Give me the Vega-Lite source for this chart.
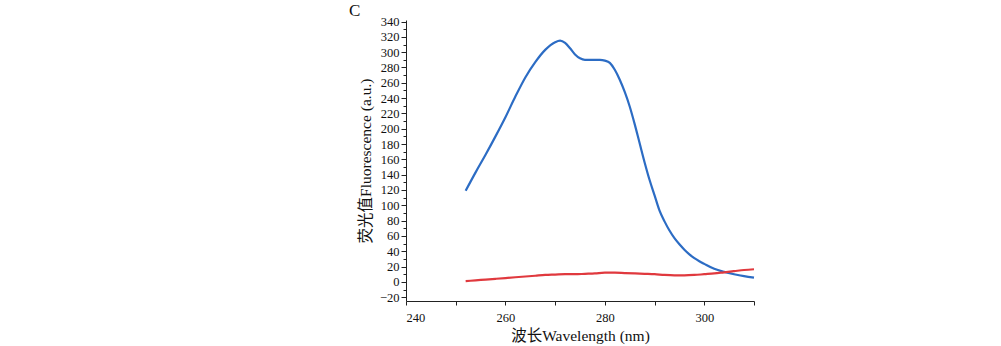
{
  "$schema": "https://vega.github.io/schema/vega-lite/v6.json",
  "autosize": {"type": "none"},
  "width": 348,
  "height": 281,
  "padding": {"left": 406, "top": 20, "right": 247, "bottom": 45},
  "background": "#ffffff",
  "title": {"text": "C", "anchor": "start", "frame": "group", "dx": -57, "offset": -4, "font": "Times New Roman", "fontSize": 17, "fontWeight": "normal", "color": "#111"},
  "config": {"view": {"stroke": null}},
  "data": {"values": [
    {"wl": 252, "v": 119, "s": "a"}, {"wl": 254, "v": 143, "s": "a"}, {"wl": 256, "v": 166, "s": "a"}, {"wl": 258, "v": 190, "s": "a"},
    {"wl": 260, "v": 215, "s": "a"}, {"wl": 262, "v": 242, "s": "a"}, {"wl": 264, "v": 267, "s": "a"}, {"wl": 266, "v": 287, "s": "a"},
    {"wl": 268, "v": 303, "s": "a"}, {"wl": 270, "v": 313, "s": "a"}, {"wl": 271, "v": 315, "s": "a"}, {"wl": 272, "v": 312, "s": "a"},
    {"wl": 273, "v": 305, "s": "a"}, {"wl": 274, "v": 297, "s": "a"}, {"wl": 275, "v": 292, "s": "a"}, {"wl": 276, "v": 290, "s": "a"},
    {"wl": 278, "v": 290, "s": "a"}, {"wl": 279, "v": 290, "s": "a"}, {"wl": 280, "v": 289, "s": "a"}, {"wl": 281, "v": 286, "s": "a"},
    {"wl": 282, "v": 277, "s": "a"}, {"wl": 283, "v": 264, "s": "a"}, {"wl": 284, "v": 248, "s": "a"}, {"wl": 285, "v": 229, "s": "a"},
    {"wl": 286, "v": 206, "s": "a"}, {"wl": 287, "v": 181, "s": "a"}, {"wl": 288, "v": 156, "s": "a"}, {"wl": 289, "v": 133, "s": "a"},
    {"wl": 290, "v": 113, "s": "a"}, {"wl": 291, "v": 93, "s": "a"}, {"wl": 292, "v": 79, "s": "a"}, {"wl": 293, "v": 67, "s": "a"},
    {"wl": 294, "v": 57, "s": "a"}, {"wl": 295, "v": 49, "s": "a"}, {"wl": 296, "v": 42, "s": "a"}, {"wl": 297, "v": 36, "s": "a"},
    {"wl": 298, "v": 31, "s": "a"}, {"wl": 299, "v": 27, "s": "a"}, {"wl": 300, "v": 23.5, "s": "a"}, {"wl": 302, "v": 17, "s": "a"},
    {"wl": 304, "v": 13, "s": "a"}, {"wl": 306, "v": 10, "s": "a"}, {"wl": 308, "v": 7.5, "s": "a"}, {"wl": 310, "v": 5.5, "s": "a"},
    {"wl": 252, "v": 1, "s": "b"}, {"wl": 254, "v": 2, "s": "b"}, {"wl": 256, "v": 3, "s": "b"}, {"wl": 258, "v": 4, "s": "b"},
    {"wl": 260, "v": 5, "s": "b"}, {"wl": 262, "v": 6, "s": "b"}, {"wl": 264, "v": 7, "s": "b"}, {"wl": 266, "v": 8, "s": "b"},
    {"wl": 268, "v": 9, "s": "b"}, {"wl": 270, "v": 9.5, "s": "b"}, {"wl": 272, "v": 10, "s": "b"}, {"wl": 274, "v": 10, "s": "b"},
    {"wl": 276, "v": 10.5, "s": "b"}, {"wl": 278, "v": 11, "s": "b"}, {"wl": 280, "v": 12, "s": "b"}, {"wl": 282, "v": 12, "s": "b"},
    {"wl": 284, "v": 11.5, "s": "b"}, {"wl": 286, "v": 11, "s": "b"}, {"wl": 288, "v": 10.5, "s": "b"}, {"wl": 290, "v": 10, "s": "b"},
    {"wl": 292, "v": 9, "s": "b"}, {"wl": 294, "v": 8.5, "s": "b"}, {"wl": 296, "v": 8.5, "s": "b"}, {"wl": 298, "v": 9, "s": "b"},
    {"wl": 300, "v": 10, "s": "b"}, {"wl": 302, "v": 11, "s": "b"}, {"wl": 304, "v": 12.5, "s": "b"}, {"wl": 306, "v": 14, "s": "b"},
    {"wl": 308, "v": 15.5, "s": "b"}, {"wl": 310, "v": 16.5, "s": "b"}
  ]},
  "mark": {"type": "line", "strokeWidth": 2.2, "interpolate": "monotone"},
  "encoding": {
    "x": {
      "field": "wl", "type": "quantitative",
      "scale": {"domain": [240, 310], "nice": false, "zero": false},
      "axis": {
        "values": [240, 250, 260, 270, 280, 290, 300, 310],
        "labelExpr": "datum.value % 20 === 0 ? datum.label : ''",
        "grid": false, "domainColor": "#222", "tickColor": "#222", "tickSize": 4,
        "labelFont": "Times New Roman", "labelFontSize": 12.5, "labelColor": "#111", "labelPadding": 6,
        "title": "波长Wavelength (nm)", "titleFont": "Times New Roman, Noto Sans CJK SC", "titleFontSize": 15.5,
        "titleFontWeight": "normal", "titleColor": "#111", "titlePadding": 5
      }
    },
    "y": {
      "field": "v", "type": "quantitative",
      "scale": {"domain": [-25, 342], "nice": false, "zero": false},
      "axis": {
        "values": [-20, -10, 0, 10, 20, 30, 40, 50, 60, 70, 80, 90, 100, 110, 120, 130, 140, 150, 160, 170, 180, 190, 200, 210, 220, 230, 240, 250, 260, 270, 280, 290, 300, 310, 320, 330, 340],
        "labelExpr": "datum.value % 20 === 0 ? (datum.value < 0 ? '−' + abs(datum.value) : datum.label) : ''",
        "tickSize": {"condition": {"test": "datum.value % 20 === 0", "value": 5}, "value": 3},
        "grid": false, "domainColor": "#222", "tickColor": "#222",
        "labelFont": "Times New Roman", "labelFontSize": 12.5, "labelColor": "#111", "labelPadding": 2,
        "title": "荧光值Fluorescence (a.u.)", "titleFont": "Times New Roman, Noto Sans CJK SC", "titleFontSize": 15.5,
        "titleFontWeight": "normal", "titleColor": "#111", "titlePadding": 6
      }
    },
    "color": {"field": "s", "type": "nominal", "scale": {"domain": ["a", "b"], "range": ["#2C6CC4", "#E0393E"]}, "legend": null}
  }
}
